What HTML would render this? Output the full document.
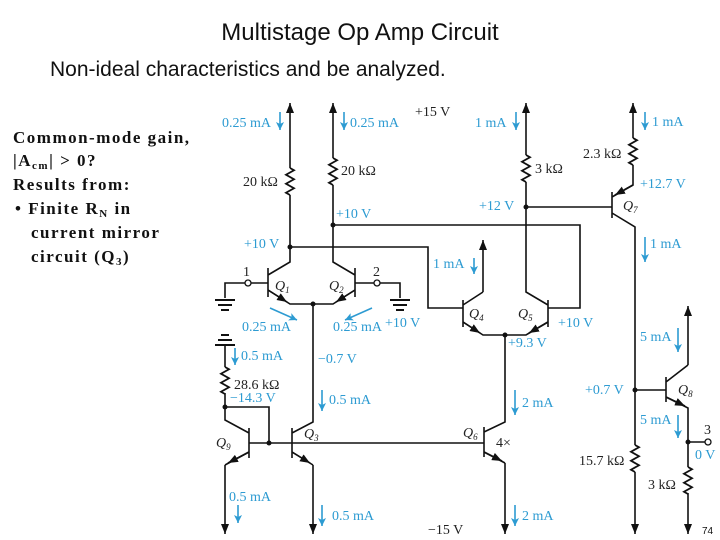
<!DOCTYPE html>
<html><head><meta charset="utf-8"><style>
html,body{margin:0;padding:0;background:#fff;}
body{width:720px;height:540px;position:relative;overflow:hidden;}
svg{position:absolute;left:0;top:0;}
.b{fill:#2d9bd2;font-family:"Liberation Serif",serif;font-size:14px;}
.k{fill:#222;font-family:"Liberation Serif",serif;font-size:14px;}
.q{fill:#222;font-family:"Liberation Serif",serif;font-size:14px;font-style:italic;}
</style></head><body>
<svg width="720" height="540" viewBox="0 0 720 540">
<defs>
<marker id="ah" markerUnits="userSpaceOnUse" markerWidth="10" markerHeight="8" refX="10" refY="4" orient="auto"><path d="M0,0 L10,4 L0,8 z" fill="#111"/></marker>
<marker id="ab" markerUnits="userSpaceOnUse" markerWidth="8" markerHeight="8" refX="8" refY="4" orient="auto"><path d="M0,0 L8,4 L0,8 L2,4 z" fill="#2d9bd2"/></marker>
<g id="res"><path d="M0,0 l4,2.25 l-8,4.5 l8,4.5 l-8,4.5 l8,4.5 l-8,4.5 l4,2.25" fill="none" stroke="#111" stroke-width="1.8"/></g>
<g id="gnd"><path d="M-10,0 h20 M-7,5 h14 M-4,10 h8" stroke="#111" stroke-width="2"/></g>
</defs>
<text x="360" y="40" text-anchor="middle" font-family="Liberation Sans,sans-serif" font-size="24" fill="#111">Multistage Op Amp Circuit</text>
<text x="50" y="76" font-family="Liberation Sans,sans-serif" font-size="21" fill="#111">Non-ideal characteristics and be analyzed.</text>
<g font-family="Liberation Serif,serif" font-size="17" font-weight="bold" fill="#111" letter-spacing="1.5">
<text x="13" y="143">Common-mode gain,</text>
<text x="13" y="166">|A<tspan font-size="11" dy="3">cm</tspan><tspan dy="-3">| &gt; 0?</tspan></text>
<text x="13" y="190">Results from:</text>
<text x="15" y="214">• Finite R<tspan font-size="11" dy="3">N</tspan><tspan dy="-3"> in</tspan></text>
<text x="31" y="238">current mirror</text>
<text x="31" y="262">circuit (Q<tspan font-size="11" dy="3">3</tspan><tspan dy="-3">)</tspan></text>
</g>
<g stroke="#111" stroke-width="1.6" fill="none">
<line x1="290" y1="168" x2="290" y2="103" marker-end="url(#ah)"/>
<line x1="333" y1="158" x2="333" y2="103" marker-end="url(#ah)"/>
<line x1="526" y1="155" x2="526" y2="103" marker-end="url(#ah)"/>
<line x1="633" y1="138" x2="633" y2="103" marker-end="url(#ah)"/>
<line x1="483" y1="292" x2="483" y2="240" marker-end="url(#ah)"/>
<line x1="688" y1="365" x2="688" y2="306" marker-end="url(#ah)"/>
<line x1="225" y1="465" x2="225" y2="534" marker-end="url(#ah)"/>
<line x1="313" y1="465" x2="313" y2="534" marker-end="url(#ah)"/>
<line x1="505" y1="463" x2="505" y2="534" marker-end="url(#ah)"/>
<line x1="635" y1="472" x2="635" y2="534" marker-end="url(#ah)"/>
<line x1="688" y1="493" x2="688" y2="534" marker-end="url(#ah)"/>
<path d="M290,195 V262 L268,275 M268,268 V297 M268,290 L290,304 H333 L355,290 M355,268 V297 M355,275 L333,262 V185"/>
<path d="M290,247 H428 V308 H463 M333,225 H580 V308 H548"/>
<path d="M313,304 V422 L292,433 M292,428 V458 M292,452 L313,465"/>
<path d="M250,283 H268 M246,283 H225 V298 M375,283 H355 M379,283 H400 V298"/>
<path d="M483,292 L463,305 M463,300 V327 M463,322 L483,335 H526 L548,322 M548,300 V327 M548,305 L526,292 V182"/>
<path d="M505,335 V422 L484,432 M484,427 V457 M484,452 L505,463"/>
<path d="M526,207 H612 M612,192 V218 M612,197 L633,185 V165 M612,213 L635,227 V445"/>
<path d="M635,390 H666 M666,377 V402 M666,382 L688,365 M666,397 L688,408 V467 M688,442 H705"/>
<path d="M225,345 V367 M225,393 V420 L249,433 M249,428 V458 M249,452 L225,465 M225,407 H269 V443 M249,443 H484"/>
<line x1="268" y1="290" x2="287" y2="302" marker-end="url(#ah)"/>
<line x1="355" y1="290" x2="336" y2="302" marker-end="url(#ah)"/>
<line x1="463" y1="322" x2="480" y2="333" marker-end="url(#ah)"/>
<line x1="548" y1="322" x2="529" y2="333" marker-end="url(#ah)"/>
<line x1="633" y1="185" x2="615" y2="195" marker-end="url(#ah)"/>
<line x1="666" y1="397" x2="685" y2="406" marker-end="url(#ah)"/>
<line x1="292" y1="452" x2="310" y2="463" marker-end="url(#ah)"/>
<line x1="249" y1="452" x2="228" y2="463" marker-end="url(#ah)"/>
<line x1="484" y1="452" x2="502" y2="461" marker-end="url(#ah)"/>
</g>
<g fill="#111">
<circle cx="290" cy="247" r="2.5"/><circle cx="333" cy="225" r="2.5"/><circle cx="313" cy="304" r="2.5"/>
<circle cx="505" cy="335" r="2.5"/><circle cx="526" cy="207" r="2.5"/><circle cx="635" cy="390" r="2.5"/>
<circle cx="688" cy="442" r="2.5"/><circle cx="225" cy="407" r="2.5"/><circle cx="269" cy="443" r="2.5"/>
</g>
<g fill="#fff" stroke="#111" stroke-width="1.3"><circle cx="248" cy="283" r="3"/><circle cx="377" cy="283" r="3"/><circle cx="708" cy="442" r="3"/></g>
<use href="#res" x="290" y="168"/><use href="#res" x="333" y="158"/><use href="#res" x="526" y="155"/>
<use href="#res" x="633" y="138"/><use href="#res" x="225" y="367"/><use href="#res" x="635" y="445"/><use href="#res" x="688" y="467"/>
<use href="#gnd" x="225" y="300"/><use href="#gnd" x="400" y="300"/><use href="#gnd" x="225" y="335" transform="rotate(180 225 340)"/>
<g stroke="#2d9bd2" stroke-width="1.6">
<line x1="280" y1="112" x2="280" y2="130" marker-end="url(#ab)"/>
<line x1="344" y1="112" x2="344" y2="130" marker-end="url(#ab)"/>
<line x1="516" y1="112" x2="516" y2="130" marker-end="url(#ab)"/>
<line x1="645" y1="112" x2="645" y2="130" marker-end="url(#ab)"/>
<line x1="645" y1="237" x2="645" y2="262" marker-end="url(#ab)"/>
<line x1="474" y1="258" x2="474" y2="274" marker-end="url(#ab)"/>
<line x1="270" y1="308" x2="297" y2="320" marker-end="url(#ab)"/>
<line x1="372" y1="308" x2="345" y2="320" marker-end="url(#ab)"/>
<line x1="235" y1="348" x2="235" y2="365" marker-end="url(#ab)"/>
<line x1="322" y1="390" x2="322" y2="411" marker-end="url(#ab)"/>
<line x1="515" y1="390" x2="515" y2="415" marker-end="url(#ab)"/>
<line x1="238" y1="505" x2="238" y2="523" marker-end="url(#ab)"/>
<line x1="322" y1="505" x2="322" y2="526" marker-end="url(#ab)"/>
<line x1="515" y1="505" x2="515" y2="526" marker-end="url(#ab)"/>
<line x1="678" y1="328" x2="678" y2="352" marker-end="url(#ab)"/>
<line x1="678" y1="415" x2="678" y2="438" marker-end="url(#ab)"/>
</g>
<g class="b">
<text x="222" y="127" class="b">0.25 mA</text><text x="350" y="127" class="b">0.25 mA</text>
<text x="475" y="127" class="b">1 mA</text><text x="652" y="126" class="b">1 mA</text>
<text x="650" y="248" class="b">1 mA</text><text x="433" y="268" class="b">1 mA</text>
<text x="244" y="248" class="b">+10 V</text><text x="336" y="218" class="b">+10 V</text>
<text x="385" y="327" class="b">+10 V</text><text x="558" y="327" class="b">+10 V</text>
<text x="479" y="210" class="b">+12 V</text><text x="640" y="188" class="b">+12.7 V</text>
<text x="508" y="347" class="b">+9.3 V</text>
<text x="242" y="331" class="b">0.25 mA</text><text x="333" y="331" class="b">0.25 mA</text>
<text x="241" y="360" class="b">0.5 mA</text><text x="318" y="363" class="b">−0.7 V</text>
<text x="230" y="402" class="b">−14.3 V</text><text x="329" y="404" class="b">0.5 mA</text>
<text x="522" y="407" class="b">2 mA</text>
<text x="229" y="501" class="b">0.5 mA</text><text x="332" y="520" class="b">0.5 mA</text>
<text x="522" y="520" class="b">2 mA</text>
<text x="585" y="394" class="b">+0.7 V</text>
<text x="640" y="341" class="b">5 mA</text><text x="640" y="424" class="b">5 mA</text>
<text x="695" y="459" class="b">0 V</text>
</g>
<g class="k">
<text x="415" y="116" class="k">+15 V</text><text x="428" y="534" class="k">−15 V</text>
<text x="243" y="186" class="k">20 kΩ</text><text x="341" y="175" class="k">20 kΩ</text>
<text x="535" y="173" class="k">3 kΩ</text><text x="583" y="158" class="k">2.3 kΩ</text>
<text x="234" y="389" class="k">28.6 kΩ</text><text x="579" y="465" class="k">15.7 kΩ</text>
<text x="648" y="489" class="k">3 kΩ</text>
<text x="243" y="276" class="k">1</text><text x="373" y="276" class="k">2</text>
<text x="704" y="434" class="k">3</text><text x="496" y="447" class="k">4×</text>
</g>
<g class="q">
<text x="275" y="290" class="q">Q<tspan font-size="9" dy="3">1</tspan></text>
<text x="329" y="290" class="q">Q<tspan font-size="9" dy="3">2</tspan></text>
<text x="469" y="318" class="q">Q<tspan font-size="9" dy="3">4</tspan></text>
<text x="518" y="318" class="q">Q<tspan font-size="9" dy="3">5</tspan></text>
<text x="623" y="210" class="q">Q<tspan font-size="9" dy="3">7</tspan></text>
<text x="678" y="394" class="q">Q<tspan font-size="9" dy="3">8</tspan></text>
<text x="304" y="438" class="q">Q<tspan font-size="9" dy="3">3</tspan></text>
<text x="216" y="447" class="q">Q<tspan font-size="9" dy="3">9</tspan></text>
<text x="463" y="437" class="q">Q<tspan font-size="9" dy="3">6</tspan></text>
</g>
<text x="702" y="534" font-family="Liberation Sans,sans-serif" font-size="10" fill="#111">74</text>
</svg>
</body></html>
